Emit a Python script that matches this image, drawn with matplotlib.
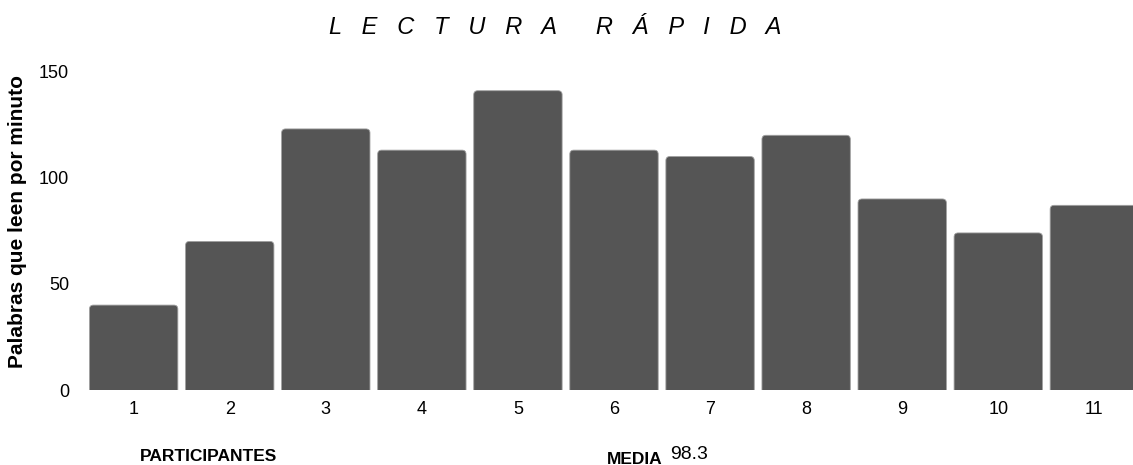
import matplotlib
matplotlib.use("Agg")
import matplotlib.pyplot as plt
import numpy as np
from matplotlib.patches import FancyBboxPatch

plt.rcParams["font.family"] = ["Liberation Sans", "DejaVu Sans"]

participantes = [str(i) for i in range(1, 12)]
palabras = [40, 70, 123, 113, 141, 113, 110, 120, 90, 74, 87]
y_ticks = [0, 50, 100, 150]

BAR_COLOR = "#555555"

fig = plt.figure(figsize=(11.33, 4.65), dpi=100)
W, H = 1133, 465
# axes box in pixels: x from 76 to 1152 (runs past the right edge), y from 390 up to 61
ax = fig.add_axes([76 / W, (H - 390) / H, (1152 - 76) / W, (390 - 61) / H])

x = np.arange(1, len(palabras) + 1)
bars = ax.bar(x, palabras, width=0.92, color=BAR_COLOR)

# swap plain rectangles for ones with rounded top corners
px_x = 96.0   # pixels per x unit
px_y = 2.12   # pixels per y unit
r_px = 4.0
rx = r_px / px_x
ry = r_px / px_y
for rect in bars.patches:
    x0, w, h = rect.get_x(), rect.get_width(), rect.get_height()
    rect.remove()
    fb = FancyBboxPatch(
        (x0, -ry * 2), w, h + ry * 2,
        boxstyle=f"round,pad=0,rounding_size={rx}",
        mutation_aspect=ry / rx,
        facecolor=BAR_COLOR, edgecolor="#a0a0a0", linewidth=0.6,
    )
    ax.add_patch(fb)

ax.set_xlim(0.4, 11.6)
ax.set_ylim(0, 155)
ax.set_xticks(x)
ax.set_xticklabels(participantes, fontsize=13)
ax.set_yticks(y_ticks)
ax.set_yticklabels([str(v) for v in y_ticks], fontsize=13)
ax.tick_params(length=0, pad=5)
ax.tick_params(axis="x", pad=8)
for s in ax.spines.values():
    s.set_visible(False)

fig.text(18 / W, 1 - 222 / H, "Palabras que leen por minuto", rotation=90,
         ha="center", va="center", fontsize=15, fontweight="bold")

# spaced-out italic title
titulo = "   ".join("LECTURA") + " " * 6 + "   ".join("RÁPIDA")
fig.text(555 / W, 1 - 27 / H, titulo, ha="center", va="center",
         fontsize=17, fontstyle="italic")

fig.text(140 / W, 1 - 456 / H, "PARTICIPANTES", ha="left", va="center",
         fontsize=12.5, fontweight="bold")
media = np.mean(palabras)
fig.text(663 / W, 1 - 459 / H, "MEDIA", ha="right", va="center",
         fontsize=12.5, fontweight="bold")
fig.text(670 / W, 1 - 454 / H, f"{media:.1f}", ha="left", va="center", fontsize=14)

fig.savefig("out.png", dpi=100)
